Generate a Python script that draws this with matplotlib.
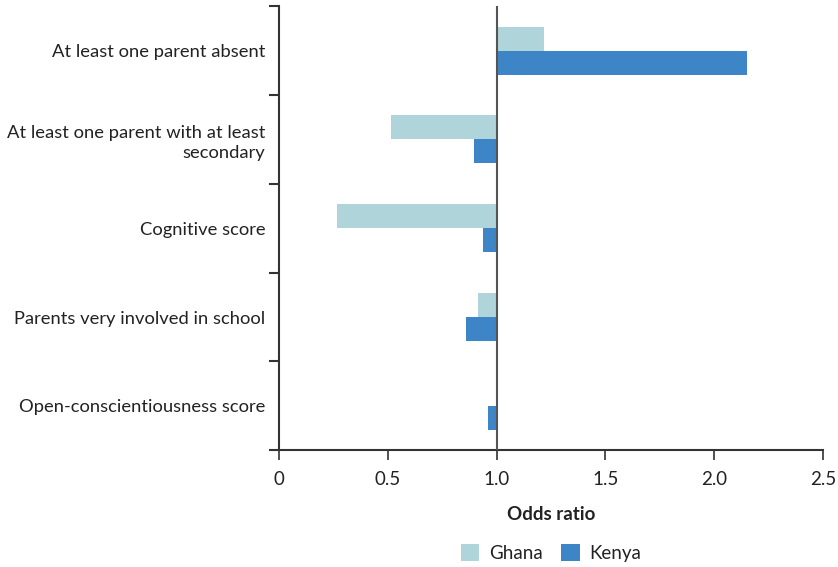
import matplotlib.pyplot as plt
import numpy as np

plt.rcParams['font.family'] = ['Lato', 'DejaVu Sans']

categories = ['At least one parent absent',
              'At least one parent with at least\nsecondary',
              'Cognitive score',
              'Parents very involved in school',
              'Open-conscientiousness score']
ghana = [1.22, 0.515, 0.267, 0.915, 1.0]
kenya = [2.15, 0.896, 0.937, 0.859, 0.96]
xticks = [0, 0.5, 1.0, 1.5, 2.0, 2.5]
xtick_labels = ['0', '0.5', '1.0', '1.5', '2.0', '2.5']

ghana_color = '#AFD4D9'
kenya_color = '#3D85C6'
axis_color = '#333333'
text_color = '#222222'

fig = plt.figure(figsize=(8.38, 5.67), dpi=100)
ax = fig.add_axes([0.333, 0.206, 0.649, 0.783])

y = np.arange(len(categories))
h = 0.27
ax.barh(y - h / 2, np.array(ghana) - 1, left=1, height=h, color=ghana_color, label='Ghana')
ax.barh(y + h / 2, np.array(kenya) - 1, left=1, height=h, color=kenya_color, label='Kenya')
ax.axvline(1.0, color='#555555', lw=1.5, zorder=3)

ax.set_xlim(0, 2.5)
ax.set_ylim(len(categories) - 0.5, -0.5)
ax.set_xticks(xticks)
ax.set_xticklabels(xtick_labels, fontsize=13.5)
ax.set_yticks(np.arange(-0.5, len(categories), 1.0))
ax.set_yticklabels([])
ax.set_yticks(y, minor=True)
ax.set_yticklabels(categories, minor=True, fontsize=13.2, ha='right', color=text_color,
                   linespacing=1.3)
ax.tick_params(axis='y', which='minor', length=0, pad=10)
ax.tick_params(axis='y', which='major', length=7, width=1.5, color=axis_color)
ax.tick_params(axis='x', length=7, width=1.2, color=axis_color, pad=8, labelcolor=text_color)

for s in ['top', 'right']:
    ax.spines[s].set_visible(False)
for s in ['left', 'bottom']:
    ax.spines[s].set_color(axis_color)
    ax.spines[s].set_linewidth(1.5)

ax.set_xlabel('Odds ratio', fontsize=13.5, fontweight='bold', labelpad=13, color=text_color)
leg = ax.legend(loc='center', bbox_to_anchor=(0.5, -0.232), ncol=2, frameon=False,
                fontsize=13.5, handlelength=1.0, handleheight=1.0, columnspacing=1.0,
                handletextpad=0.5)
for t in leg.get_texts():
    t.set_color(text_color)

fig.savefig('out.png', dpi=100)
